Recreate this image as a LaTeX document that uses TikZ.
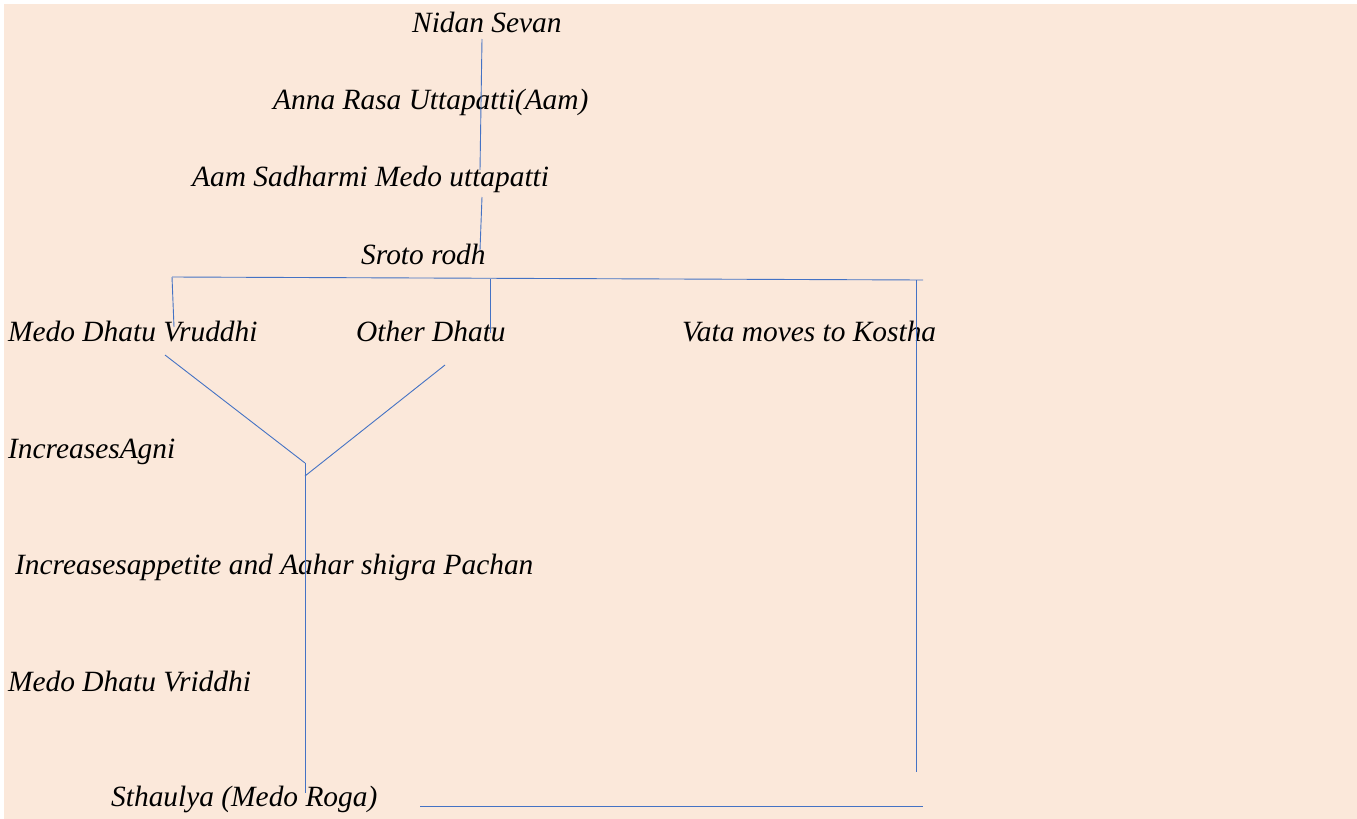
\documentclass[tikz,border=0pt]{standalone}
\usepackage{fontspec}
\setmainfont{Liberation Serif}
\usepackage{xcolor}
\usepackage{tikz}
\usetikzlibrary{positioning}
\definecolor{peach}{RGB}{251,232,218}
\definecolor{lineblue}{RGB}{68,114,196}

\begin{document}
\begin{tikzpicture}[x=1pt, y=-1pt, font=\fontsize{29.4}{34}\selectfont\itshape, lbl/.style={anchor=base west, inner sep=0pt}, ln/.style={draw=lineblue, line width=0.9pt}]
\useasboundingbox (0,0) rectangle (1357,819);
\fill[white] (0,0) rectangle (1357,819);
\fill[peach] (4,4) rectangle (1357,819);
% labels
\node[lbl] (nidan) at (412,32) {Nidan Sevan};
\node[lbl] (anna) at (273,109) {Anna Rasa Uttapatti(Aam)};
\node[lbl] (aam) at (192,186) {Aam Sadharmi Medo uttapatti};
\node[lbl] (sroto) at (361,264) {Sroto rodh};
\node[lbl] (medo) at (8,341) {Medo Dhatu Vruddhi};
\node[lbl] (other) at (356,341) {Other Dhatu};
\node[lbl] (vata) at (682,341) {Vata moves to Kostha};
\node[lbl] (agni) at (8,458) {IncreasesAgni};
\node[lbl] (appetite) at (15,574) {Increasesappetite and Aahar shigra Pachan};
\node[lbl] (vriddhi) at (8,691) {Medo Dhatu Vriddhi};
\node[lbl] (sthaulya) at (111,806) {Sthaulya (Medo Roga)};
% line ends
\coordinate (n1) at (482,39);
\coordinate (n2) at (480,170);
\coordinate (a1) at (482,197);
\coordinate (a2) at (480,250);
\coordinate (bl) at (172,277);
\coordinate (bm) at (490,279);
\coordinate (br) at (923,280);
\coordinate (dl) at (174,327);
\coordinate (dm) at (490,333);
\coordinate (vr) at (916,280);
\coordinate (vr2) at (916,772);
\coordinate (yl) at (165,355);
\coordinate (yr) at (445,365);
\coordinate (yt) at (305,463);
\coordinate (yj) at (305,476);
\coordinate (yb) at (305,793);
\coordinate (hb1) at (420,806);
\coordinate (hb2) at (923,806);
% connectors
\draw[ln] (n1) -- (n2);
\draw[ln] (a1) -- (a2);
\draw[ln] (bl) -- (br);
\draw[ln] (bl) -- (dl);
\draw[ln] (bm) -- (dm);
\draw[ln] (vr) -- (vr2);
\draw[ln] (yl) -- (yt);
\draw[ln] (yr) -- (yj);
\draw[ln] (yt) -- (yb);
\draw[ln] (hb1) -- (hb2);
\end{tikzpicture}
\end{document}
